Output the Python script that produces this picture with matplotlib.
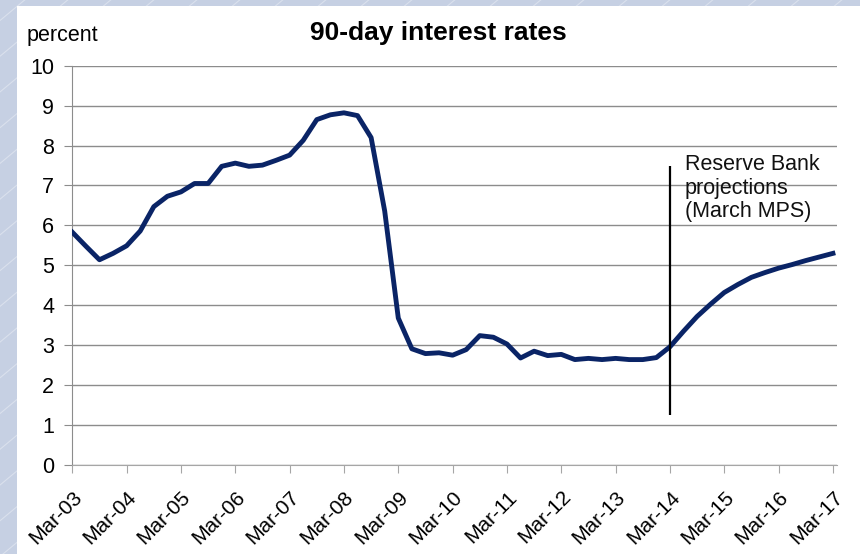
import numpy as np
import matplotlib
matplotlib.use("Agg")
import matplotlib.pyplot as plt
from matplotlib.patches import Rectangle
from matplotlib.lines import Line2D

plt.rcParams["font.family"] = ["Liberation Sans", "DejaVu Sans"]

# Quarterly 90-day rate, Mar-03 .. Mar-17 (projection from Mar-14 onwards)
taxas_90d = [
    5.83, 5.48, 5.14, 5.30,   # 2003
    5.49, 5.86, 6.47, 6.73,   # 2004
    6.84, 7.05, 7.05, 7.48,   # 2005
    7.56, 7.48, 7.51, 7.63,   # 2006
    7.76, 8.13, 8.65, 8.77,   # 2007
    8.82, 8.75, 8.20, 6.36,   # 2008
    3.68, 2.91, 2.79, 2.81,   # 2009
    2.75, 2.89, 3.24, 3.20,   # 2010
    3.03, 2.68, 2.85, 2.74,   # 2011
    2.77, 2.64, 2.67, 2.64,   # 2012
    2.67, 2.64, 2.64, 2.69,   # 2013
    2.96, 3.35, 3.72, 4.03,   # 2014
    4.32, 4.52, 4.70, 4.82,   # 2015
    4.93, 5.02, 5.12, 5.21,   # 2016
    5.30,                     # 2017
]
rotulos_x = ["Mar-03", "Mar-04", "Mar-05", "Mar-06", "Mar-07", "Mar-08", "Mar-09",
             "Mar-10", "Mar-11", "Mar-12", "Mar-13", "Mar-14", "Mar-15", "Mar-16",
             "Mar-17"]
trimestre_projecao = 44          # Mar-14
linha_projecao = (1.25, 7.5)     # extent of the marker line
texto_projecao = "Reserve Bank\nprojections\n(March MPS)"

fig = plt.figure(figsize=(8.6, 5.54), dpi=100)

# slide-style backdrop: pale blue with faint diagonal streaks, white card on top
fig.patches.append(Rectangle((0, 0), 1, 1, transform=fig.transFigure,
                             facecolor="#c6d0e3", edgecolor="none", zorder=-10))
for x0 in np.arange(-900, 900, 43):
    fig.add_artist(Line2D([x0, x0 + 700], [0, 554 * 1.05], transform=None,
                          color="white", alpha=0.35, lw=0.8, zorder=-9))
fig.patches.append(Rectangle((17 / 860, 0), 1, 1 - 6 / 554, transform=fig.transFigure,
                             facecolor="white", edgecolor="none", zorder=-8))

ax = fig.add_axes([72.3 / 860, 89 / 554, (837 - 72.3) / 860, (465 - 65.7) / 554])
ax.set_facecolor("none")

x = np.arange(len(taxas_90d))
ax.plot(x, taxas_90d, color="#0a2466", lw=3.5, solid_joinstyle="round", zorder=3)

ax.vlines(trimestre_projecao, *linha_projecao, color="black", lw=1.6, zorder=4)
ax.text(trimestre_projecao + 1.1, 7.78, texto_projecao, fontsize=15.5, va="top",
        ha="left", linespacing=1.14, color="#111111")

ax.set_xlim(0, 56.3)
ax.set_ylim(0, 10)
ax.set_yticks(range(0, 11))
ax.set_xticks(np.arange(0, 57, 4))
ax.set_xticklabels(rotulos_x, rotation=45, ha="right", va="top",
                   rotation_mode="anchor", fontsize=15)
ax.tick_params(axis="y", labelsize=15.5, length=6, color="#8c8c8c", pad=7)
ax.tick_params(axis="x", length=6, color="#a6a6a6", pad=10)

ax.grid(axis="y", color="#8c8c8c", lw=1.0)
ax.set_axisbelow(True)
for lado in ["top", "right"]:
    ax.spines[lado].set_visible(False)
ax.spines["left"].set_color("#8c8c8c")
ax.spines["bottom"].set_color("#a6a6a6")

fig.text(27 / 860, 1 - 35 / 554, "percent", fontsize=15.5, va="center", ha="left")
fig.text(438 / 860, 1 - 33 / 554, "90-day interest rates", fontsize=19,
         fontweight="bold", ha="center", va="center")

fig.savefig("out.png", dpi=100)
